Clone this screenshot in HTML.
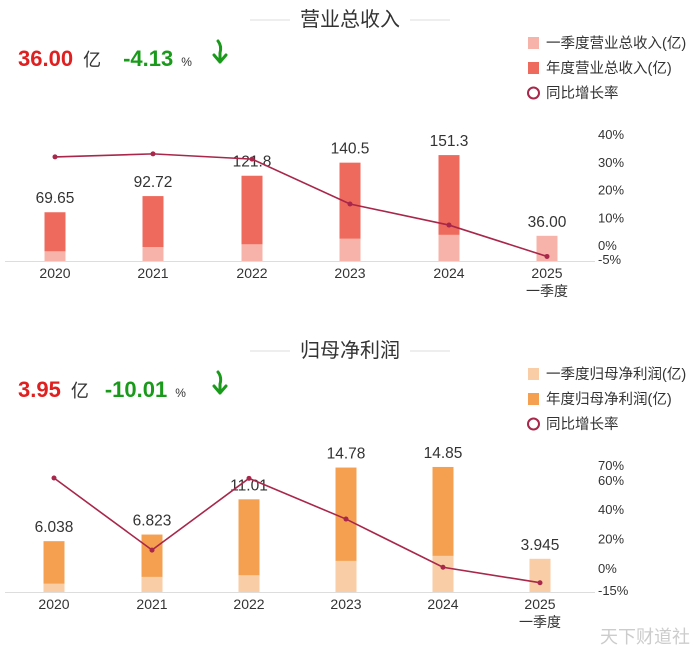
<!DOCTYPE html>
<html><head><meta charset="utf-8"><style>
body{margin:0;background:#fff;width:700px;height:651px;overflow:hidden}
svg{display:block;font-family:"Liberation Sans","Noto Sans CJK SC",sans-serif}
</style></head><body>
<svg id="c" width="700" height="651" viewBox="0 0 700 651"></svg>
<script>
const years = ["2020","2021","2022","2023","2024","2025"];
const revAnnual = [69.65, 92.72, 121.8, 140.5, 151.3, null];
const revQuarter = [14, 20, 24, 32, 37.5, 36.00];
const revGrowth = [31.8, 32.9, 31, 14.8, 7.2, -4.13];
const revLabels = ["69.65","92.72","121.8","140.5","151.3","36.00"];
const revTicks = [40, 30, 20, 10, 0, -5];
const npAnnual = [6.038, 6.823, 11.01, 14.78, 14.85, null];
const npQuarter = [1.0, 1.8, 2.0, 3.7, 4.3, 3.945];
const npGrowth = [61.2, 12.2, 61, 33.3, 0.5, -10.01];
const npLabels = ["6.038","6.823","11.01","14.78","14.85","3.945"];
const npTicks = [70, 60, 40, 20, 0, -15];

const svg = document.getElementById('c');
const NS = 'http://www.w3.org/2000/svg';
function mk(tag, attrs, parent){const e=document.createElementNS(NS,tag);for(const k in attrs)e.setAttribute(k,attrs[k]);(parent||svg).appendChild(e);return e;}
function txt(s, attrs, parent){const e=mk('text',attrs,parent);e.textContent=s;return e;}

function panel(o){
  const g=mk('g',{});
  
  
  const t=txt(o.title,{x:350,y:o.top+26,'text-anchor':'middle','font-size':20,fill:'#333'},g);
  
  
  mk('line',{x1:250,x2:290,y1:o.top+20,y2:o.top+20,stroke:'#ddd'},g);
  mk('line',{x1:410,x2:450,y1:o.top+20,y2:o.top+20,stroke:'#ddd'},g);
  const h=txt('',{x:18,y:o.top+66,'font-size':22},g);
  
  
  h.innerHTML=`<tspan fill="#e02020" font-weight="bold">${o.val}</tspan><tspan fill="#333" font-size="18" dx="10">亿</tspan><tspan fill="#1a9a1a" font-weight="bold" dx="${o.pdx}">${o.pct}</tspan><tspan fill="#333" font-size="12" dx="8">%</tspan>`;
  const ar=mk('path',{d:`M${o.arx-2} ${o.top+41} q4 5 2 12 l0 9 M${o.arx-6} ${o.top+55} l6 7 l6 -7`,stroke:'#1a9a1a','stroke-width':3,fill:'none','stroke-linecap':'round','stroke-linejoin':'round'},g);
  
  
  const lg=[[o.qName,o.qc,'sq'],[o.aName,o.ac,'sq'],['同比增长率',o.lc,'c']];
  lg.forEach((l,i)=>{
    const y=o.top+43+i*25;
    const le=mk('g',{},g);
    
    
    if(l[2]==='sq') mk('rect',{x:528,y:y-6,width:11,height:12,fill:l[1]},le);
    else mk('circle',{cx:533.5,cy:y,r:5.5,fill:'none',stroke:l[1],'stroke-width':2},le);
    txt(l[0],{x:546,y:y+5,'font-size':14.5,fill:'#333'},le);
  });
  const base=o.base, xs=o.xs, bw=21;
  const yv=v=>base-v*o.k;
  const yg=v=>o.g0-v*o.gk;
  mk('line',{x1:5,x2:595,y1:base+0.5,y2:base+0.5,stroke:'#ddd'},g);
  o.ticks.forEach(tv=>{
    const tt=txt(tv+'%',{x:598,y:yg(tv)+5,'font-size':13,fill:'#333'},g);
    
    
  });
  years.forEach((yr,i)=>{
    const x=xs[i];
    if(o.annual[i]!=null){
      const r=mk('rect',{x:x-bw/2,y:yv(o.annual[i]),width:bw,height:o.annual[i]*o.k,fill:o.ac},g);
      
      
    }
    const q=mk('rect',{x:x-bw/2,y:yv(o.quarter[i]),width:bw,height:o.quarter[i]*o.k,fill:o.qc},g);
    
    
    const top=o.annual[i]!=null?o.annual[i]:o.quarter[i];
    const vl=txt(o.labels[i],{x:x,y:yv(top)-9,'text-anchor':'middle','font-size':15.5,fill:'#333'},g);
    
    
    const xl=txt(yr,{x:x,y:base+17,'text-anchor':'middle','font-size':14,fill:'#333'},g);
    
    
    if(i===5){txt('一季度',{x:x,y:base+35,'text-anchor':'middle','font-size':14,fill:'#333'},g);}
  });
  const pts=o.growth.map((v,i)=>xs[i]+','+yg(v)).join(' ');
  const pl=mk('polyline',{points:pts,fill:'none',stroke:o.lc,'stroke-width':1.6},g);
  
  
  o.growth.forEach((v,i)=>{
    const c=mk('circle',{cx:xs[i],cy:yg(v),r:2.5,fill:o.lc},g);
    
    
  });
}
panel({id:'revenue',title:'营业总收入',top:0,val:'36.00',pct:'-4.13',pdx:22,arx:220,
  qName:'一季度营业总收入(亿)',aName:'年度营业总收入(亿)',qc:'#F7B3AA',ac:'#EE6A5C',lc:'#A8274A',
  base:261,k:0.70,g0:245,gk:2.77,xs:[55,153,252,350,449,547],
  annual:revAnnual,quarter:revQuarter,growth:revGrowth,labels:revLabels,ticks:revTicks});
panel({id:'net-profit',title:'归母净利润',top:331,val:'3.95',pct:'-10.01',pdx:16,arx:220,
  qName:'一季度归母净利润(亿)',aName:'年度归母净利润(亿)',qc:'#F9CDA5',ac:'#F4A050',lc:'#A8274A',
  base:592,k:8.42,g0:568,gk:1.47,xs:[54,152,249,346,443,540],
  annual:npAnnual,quarter:npQuarter,growth:npGrowth,labels:npLabels,ticks:npTicks});
const w=txt('天下财道社',{x:690,y:643,'text-anchor':'end','font-size':18,fill:'#ccc'});


</script>
</body></html>
